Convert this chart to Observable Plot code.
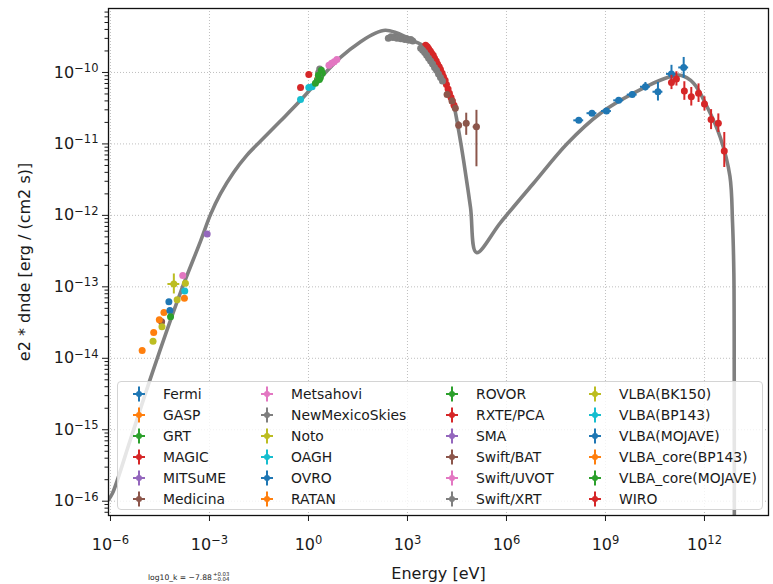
<!DOCTYPE html>
<html><head><meta charset="utf-8">
<script src="https://cdn.jsdelivr.net/npm/d3@7"></script>
<script src="https://cdn.jsdelivr.net/npm/@observablehq/plot@0.6"></script>
<style>
body{margin:0;background:#fff;}
#wrap{position:relative;width:773px;height:584px;font-family:"DejaVu Sans",sans-serif;overflow:hidden;}
#chart{position:absolute;left:0;top:0;}
#legend{position:absolute;left:117px;top:381px;width:646px;height:129px;border:1px solid #d4d4d4;border-radius:4px;background:rgba(255,255,255,0.8);box-sizing:border-box;}
.item{position:absolute;font-size:13.9px;color:#1a1a1a;white-space:nowrap;line-height:16px;}
.hnd{position:absolute;}
#note{position:absolute;left:148px;top:572px;font-size:7.6px;color:#222;white-space:nowrap;display:flex;align-items:center;}
#note .st{display:inline-flex;flex-direction:column;font-size:5.4px;line-height:5.4px;margin-left:1px;}
</style></head><body>
<div id="wrap"><div id="chart"></div><div id="legend"></div><div id="note"></div></div>
<script>
// ---------- data (log10 E [eV], log10 e2dnde, err down dex, err up dex, E err dex) ----------
const instruments = ["Fermi","GASP","GRT","MAGIC","MITSuME","Medicina","Metsahovi","NewMexicoSkies","Noto","OAGH","OVRO","RATAN","ROVOR","RXTE/PCA","SMA","Swift/BAT","Swift/UVOT","Swift/XRT","VLBA(BK150)","VLBA(BP143)","VLBA(MOJAVE)","VLBA_core(BP143)","VLBA_core(MOJAVE)","WIRO"];
const palette = ["#1f77b4","#ff7f0e","#2ca02c","#d62728","#9467bd","#8c564b","#e377c2","#7f7f7f","#bcbd22","#17becf"];

const fermi = [[8.19,-10.67,0.04,0.04,0.15],[8.59,-10.57,0.03,0.03,0.15],[9.03,-10.54,0.03,0.03,0.15],[9.40,-10.39,0.03,0.03,0.15],[9.81,-10.31,0.04,0.04,0.15],[10.21,-10.20,0.06,0.06,0.15],[10.59,-10.27,0.13,0.13,0.15],[11.00,-10.02,0.16,0.12,0.15],[11.37,-9.93,0.15,0.14,0.15]];
const gasp = [[0.28,-10.09,0.01,0.01,0]];
const grt = [[0.27,-10.11,0.01,0.01,0],[0.36,-10.07,0.01,0.01,0],[0.42,-10.01,0.01,0.01,0]];
const magic = [[11.00,-10.14,0.10,0.10,0],[11.15,-10.09,0.10,0.10,0],[11.39,-10.26,0.13,0.13,0],[11.60,-10.34,0.13,0.13,0],[11.82,-10.29,0.13,0.13,0],[12.00,-10.44,0.10,0.10,0],[12.20,-10.66,0.14,0.14,0],[12.42,-10.71,0.13,0.13,0],[12.60,-11.10,0.23,0.26,0]];
const mitsume = [[0.31,-10.06,0.01,0.01,0]];
const medicina = [[-4.45,-13.49,0.02,0.02,0]];
const metsahovi = [[-3.81,-12.84,0.02,0.02,0]];
const newMexicoSkies = [[0.34,-9.95,0.01,0.01,0],[0.31,-10.00,0.01,0.01,0]];
const noto = [[-4.71,-13.76,0.02,0.02,0],[-4.44,-13.56,0.02,0.02,0],[-3.73,-12.95,0.02,0.02,0]];
const oagh = [[-0.24,-10.38,0.02,0.02,0],[0.01,-10.21,0.02,0.02,0],[0.11,-10.20,0.02,0.02,0]];
const ovro = [[-4.23,-13.21,0.02,0.02,0]];
const ratan = [[-5.04,-13.89,0.02,0.02,0],[-4.69,-13.64,0.02,0.02,0],[-4.52,-13.46,0.02,0.02,0],[-4.38,-13.36,0.02,0.02,0]];
const rovor = [[0.21,-10.15,0.01,0.01,0],[0.30,-10.04,0.01,0.01,0],[0.39,-9.97,0.01,0.01,0],[0.33,-10.10,0.01,0.01,0]];
const rxtePca = [[3.55,-9.62,0.02,0.02,0],[3.60,-9.64,0.02,0.02,0],[3.64,-9.67,0.02,0.02,0],[3.69,-9.70,0.02,0.02,0],[3.73,-9.73,0.02,0.02,0],[3.78,-9.76,0.02,0.02,0],[3.82,-9.80,0.02,0.02,0],[3.87,-9.84,0.02,0.02,0],[3.91,-9.88,0.02,0.02,0],[3.96,-9.92,0.02,0.02,0],[4.00,-9.96,0.02,0.02,0],[4.05,-10.01,0.02,0.02,0],[4.09,-10.06,0.02,0.02,0],[4.14,-10.11,0.02,0.02,0],[4.18,-10.17,0.02,0.02,0],[4.23,-10.23,0.03,0.03,0],[4.27,-10.29,0.03,0.03,0],[4.32,-10.35,0.03,0.03,0],[4.36,-10.40,0.03,0.03,0],[4.41,-10.46,0.03,0.03,0]];
const sma = [[-3.07,-12.26,0.02,0.02,0]];
const swiftBat = [[4.20,-10.31,0.03,0.03,0.05],[4.35,-10.40,0.04,0.04,0.05],[4.45,-10.50,0.04,0.04,0.05],[4.55,-10.74,0.05,0.05,0.06],[4.78,-10.71,0.17,0.14,0.08],[5.09,-10.76,0.56,0.23,0.10]];
const swiftUvot = [[0.62,-9.90,0.01,0.01,0],[0.70,-9.87,0.01,0.01,0],[0.78,-9.85,0.01,0.01,0],[0.86,-9.82,0.01,0.01,0]];
const swiftXrt = [[2.42,-9.52,0.01,0.01,0],[2.50,-9.50,0.01,0.01,0],[2.56,-9.51,0.01,0.01,0],[2.62,-9.50,0.01,0.01,0],[2.68,-9.52,0.01,0.01,0],[2.74,-9.51,0.01,0.01,0],[2.80,-9.53,0.01,0.01,0],[2.86,-9.52,0.01,0.01,0],[2.92,-9.54,0.01,0.01,0],[2.98,-9.53,0.01,0.01,0],[3.04,-9.55,0.01,0.01,0],[3.10,-9.54,0.01,0.01,0],[3.16,-9.56,0.01,0.01,0],[3.40,-9.66,0.01,0.01,0],[3.46,-9.69,0.01,0.01,0],[3.52,-9.72,0.01,0.01,0],[3.58,-9.76,0.01,0.01,0],[3.64,-9.80,0.01,0.01,0],[3.70,-9.84,0.01,0.01,0],[3.76,-9.88,0.01,0.01,0],[3.82,-9.93,0.01,0.01,0],[3.88,-9.97,0.01,0.01,0],[3.94,-10.02,0.01,0.01,0],[4.00,-10.07,0.01,0.01,0],[4.06,-10.12,0.01,0.01,0]];
const vlbaBK150 = [[-4.08,-12.96,0.14,0.14,0.18],[-3.98,-13.18,0.02,0.02,0]];
const vlbaBP143 = [[-3.75,-13.06,0.02,0.02,0]];
const vlbaMojave = [[-4.20,-13.33,0.02,0.02,0]];
const vlbaCoreBP143 = [[-3.76,-13.16,0.02,0.02,0]];
const vlbaCoreMojave = [[-4.18,-13.42,0.02,0.02,0]];
const wiro = [[0.01,-10.03,0.02,0.02,0],[-0.24,-10.21,0.02,0.02,0]];

const seriesData = [fermi,gasp,grt,magic,mitsume,medicina,metsahovi,newMexicoSkies,noto,oagh,ovro,ratan,rovor,rxtePca,sma,swiftBat,swiftUvot,swiftXrt,vlbaBK150,vlbaBP143,vlbaMojave,vlbaCoreBP143,vlbaCoreMojave,wiro];

// model curve (log10 E, log10 e2dnde)
const modelLogE = [-6.06,-5.94,-5.39,-4.73,-3.88,-3.27,-2.97,-2.67,-2.27,-1.87,-1.45,-0.85,-0.24,0.36,0.97,1.58,2.03,2.33,2.64,2.94,3.24,3.55,3.85,4.09,4.24,4.39,4.55,4.70,4.91,5.09,5.82,6.82,7.85,8.85,9.85,10.88,11.27,11.67,12.09,12.48,12.77,12.85,12.89,12.90,12.905];
const modelLogF = [-15.98,-15.89,-15.13,-14.20,-13.08,-12.36,-11.99,-11.70,-11.40,-11.16,-10.96,-10.68,-10.39,-10.08,-9.79,-9.57,-9.45,-9.41,-9.44,-9.50,-9.57,-9.65,-9.85,-10.07,-10.24,-10.43,-10.81,-11.23,-11.89,-12.52,-12.10,-11.55,-10.99,-10.57,-10.29,-10.07,-10.04,-10.15,-10.49,-10.91,-11.45,-12.10,-12.80,-13.60,-17.5];

const xTickExp = [-6,-3,0,3,6,9,12];
const yTickExp = [-16,-15,-14,-13,-12,-11,-10];
const xLabel = "Energy [eV]";
const yLabel = "e2 * dnde [erg / (cm2 s)]";

// ---------- build ----------
const model = modelLogE.map((e,i)=>({e:10**e, f:10**modelLogF[i]}));
const majorX = xTickExp.map(k=>10**k);
const majorY = yTickExp.map(k=>10**k);
const minorY = [];
for (let k=-17;k<=-9;k++) for (let m=2;m<=9;m++){const v=m*10**k; if(v>10**-16.2 && v<10**-9.105) minorY.push(v);}

const marks = [
  Plot.gridX(majorX,{stroke:"#b8b8b8",strokeOpacity:1,strokeWidth:0.9,strokeDasharray:"1,2"}),
  Plot.gridY(majorY,{stroke:"#b8b8b8",strokeOpacity:1,strokeWidth:0.9,strokeDasharray:"1,2"}),
  Plot.line(model,{x:"e",y:"f",stroke:"#808080",strokeWidth:3.6,curve:"catmull-rom",clip:true})
];
seriesData.forEach((rows,i)=>{
  const c = palette[i%10];
  const pts = rows.map(r=>({x:10**r[0],y:10**r[1],y1:10**(r[1]-r[2]),y2:10**(r[1]+r[3]),x1:10**(r[0]-r[4]),x2:10**(r[0]+r[4]),hx:r[4]>0}));
  marks.push(Plot.ruleX(pts,{x:"x",y1:"y1",y2:"y2",stroke:c,strokeWidth:2}));
  marks.push(Plot.ruleY(pts.filter(p=>p.hx),{y:"y",x1:"x1",x2:"x2",stroke:c,strokeWidth:2}));
  marks.push(Plot.dot(pts,{x:"x",y:"y",r:3.5,fill:c,stroke:"none"}));
});
const fmt = d => "10^" + Math.round(Math.log10(d));
marks.push(
  Plot.axisY(minorY,{tickSize:3.5,tickFormat:()=>"",label:null}),
  Plot.axisY(majorY,{tickSize:6,tickPadding:4,tickFormat:fmt,fontSize:16,label:yLabel,labelAnchor:"center",labelOffset:90,labelArrow:false}),
  Plot.axisX(majorX,{tickSize:6,tickPadding:17,tickFormat:fmt,fontSize:16,label:xLabel,labelAnchor:"center",labelOffset:63,labelArrow:false}),
  Plot.frame({stroke:"#111",strokeWidth:1.3})
);

const chart = Plot.plot({
  width:773, height:584,
  marginTop:8, marginLeft:108, marginRight:5, marginBottom:69,
  x:{type:"log", domain:[10**-6.06, 10**13.94]},
  y:{type:"log", domain:[10**-16.2, 10**-9.105]},
  style:{fontFamily:"DejaVu Sans, sans-serif", fontSize:"16px", background:"white", color:"#1a1a1a"},
  marks
});
document.getElementById("chart").appendChild(chart);

// superscript exponents on tick labels
d3.select(chart).selectAll("text").each(function(){
  const t = this.textContent;
  if (/^10\^-?\d+$/.test(t)) {
    const exp = t.split("^")[1].replace("-","\u2212");
    const s = d3.select(this);
    s.text("10");
    s.append("tspan").attr("dy","-0.5em").attr("font-size","11.5px").text(exp);
  }
});

// legend
const leg = document.getElementById("legend");
const colText = [45,173,358,501];
const rowY = [12,33,54,75,96,117];
instruments.forEach((name,i)=>{
  const col = Math.floor(i/6), row = i%6;
  const c = palette[i%10];
  const h = document.createElement("div");
  h.className="hnd";
  h.style.left=(colText[col]-33)+"px"; h.style.top=(rowY[row]-9)+"px";
  h.innerHTML=`<svg width="18" height="18"><line x1="3" y1="9" x2="15" y2="9" stroke="${c}" stroke-width="2"/><line x1="9" y1="1.5" x2="9" y2="16.5" stroke="${c}" stroke-width="2"/><circle cx="9" cy="9" r="3" fill="${c}"/></svg>`;
  leg.appendChild(h);
  const t = document.createElement("div");
  t.className="item"; t.textContent=name;
  t.style.left=colText[col]+"px"; t.style.top=(rowY[row]-8)+"px";
  leg.appendChild(t);
});
document.getElementById("note").innerHTML = 'log10_k = \u22127.88<span class="st"><span>+0.03</span><span>\u22120.04</span></span>';
</script></body></html>
